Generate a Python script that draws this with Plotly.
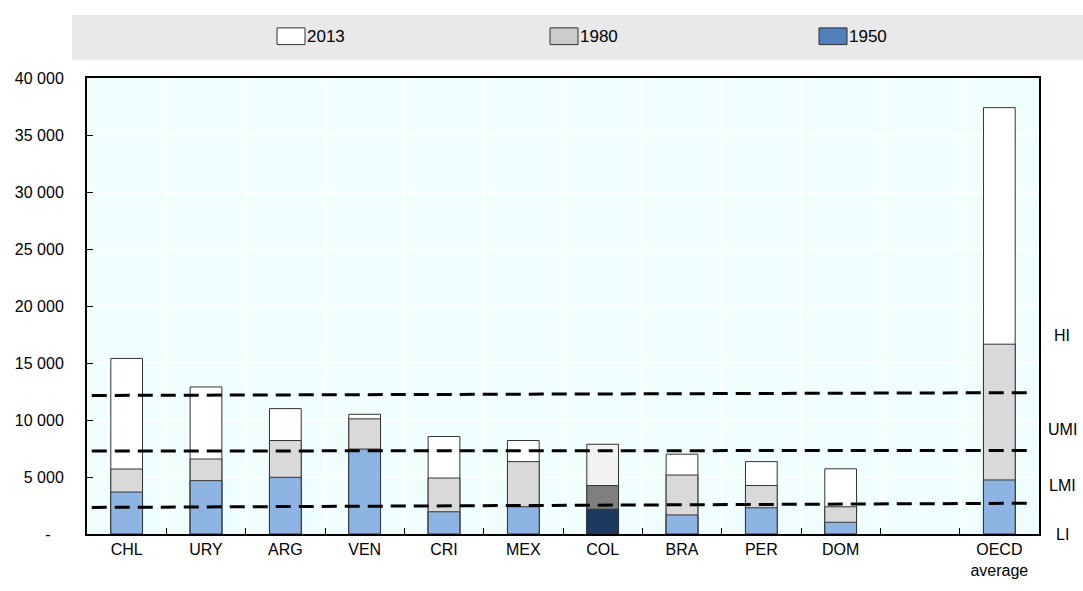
import plotly.graph_objects as go

# ---------------- data ----------------
categories = ["CHL", "URY", "ARG", "VEN", "CRI", "MEX", "COL", "BRA", "PER", "DOM", " ", "OECD<br>average"]
gdp_2013 = [15400, 12900, 11000, 10500, 8550, 8200, 7870, 7000, 6350, 5720, None, 37400]
gdp_1980 = [5700, 6580, 8200, 10100, 4910, 6350, 4250, 5170, 4250, 2390, None, 16650]
gdp_1950 = [3680, 4680, 4970, 7450, 1950, 2390, 2180, 1670, 2300, 1030, None, 4740]

highlight = "COL"

# income thresholds (start, end)
thr_x = [0.005, 0.994]
thr_high = [12150, 12400]
thr_umid = [7280, 7330]
thr_low = [2330, 2700]

band_labels = ["HI", "UMI", "LMI", "LI"]
band_label_y = [17450, 9150, 4250, 0]

y_ticks = [0, 5000, 10000, 15000, 20000, 25000, 30000, 35000, 40000]
y_ticktext = ["-\u00a0\u00a0\u00a0", "5 000", "10 000", "15 000", "20 000", "25 000", "30 000", "35 000", "40 000"]

legend_names = ["2013", "1980", "1950"]

# ---------------- styling ----------------
W, H = 1083, 591
L, R, T, B = 87, 1039, 78, 542
FONT = "Liberation Sans Narrow, Arial Narrow, Liberation Sans, Arial, sans-serif"

fill_2013 = ["#F2F2F2" if c == highlight else "#FFFFFF" for c in categories]
fill_1980 = ["#7F7F7F" if c == highlight else "#D9D9D9" for c in categories]
fill_1950 = ["#1B3A60" if c == highlight else "#8DB4E2" for c in categories]
edge = "#333333"

fig = go.Figure()
for name, vals, cols in [("2013", gdp_2013, fill_2013),
                         ("1980", gdp_1980, fill_1980),
                         ("1950", gdp_1950, fill_1950)]:
    fig.add_trace(go.Bar(
        x=categories, y=vals, name=name, width=0.4,
        marker=dict(color=cols, line=dict(color=edge, width=1)),
        showlegend=False, hoverinfo="skip"))

for vals in (thr_high, thr_umid, thr_low):
    fig.add_trace(go.Scatter(
        x=thr_x, y=vals, xaxis="x2", mode="lines",
        line=dict(color="black", width=3, dash="15px,8px"),
        showlegend=False, hoverinfo="skip"))


def px_x(p):
    return (p - L) / (R - L)


def px_y(p):
    return (B - p) / (B - T)


shapes = []
annotations = []
# legend band
shapes.append(dict(type="rect", xref="paper", yref="paper",
                   x0=px_x(72), x1=px_x(1083), y0=px_y(60), y1=px_y(14),
                   fillcolor="#E9E9E9", line=dict(width=0), layer="below"))
legend_fill = ["#FFFFFF", "#CCCCCC", "#4F81BD"]
legend_x = [277, 550, 819]
for name, fc, lx in zip(legend_names, legend_fill, legend_x):
    shapes.append(dict(type="rect", xref="paper", yref="paper",
                       x0=px_x(lx), x1=px_x(lx + 28), y0=px_y(44), y1=px_y(27),
                       fillcolor=fc, line=dict(color="#333333", width=1)))
    annotations.append(dict(text=name, xref="paper", yref="paper",
                            x=px_x(lx + 28), y=px_y(35.5), xanchor="left", yanchor="middle",
                            showarrow=False, font=dict(family=FONT, size=17, color="#000000")))

for lab, yv in zip(band_labels, band_label_y):
    annotations.append(dict(text=lab, xref="paper", yref="y",
                            x=px_x(1062), y=yv, xanchor="center", yanchor="middle",
                            showarrow=False, font=dict(family=FONT, size=16, color="#000000")))

fig.update_layout(
    width=W, height=H,
    margin=dict(l=L, r=W - R, t=T, b=H - B),
    paper_bgcolor="white", plot_bgcolor="#F0FEFE",
    barmode="overlay", bargap=0.6,
    font=dict(family=FONT, size=16, color="#000000"),
    shapes=shapes, annotations=annotations,
    xaxis=dict(type="category", categoryorder="array", categoryarray=categories,
               range=[-0.5, len(categories) - 0.5],
               tickson="boundaries", ticks="inside", ticklen=6, tickcolor="black",
               showgrid=True, gridcolor="white", gridwidth=1.5,
               showline=True, linecolor="black", linewidth=2, mirror=True,
               tickfont=dict(family=FONT, size=16), fixedrange=True),
    xaxis2=dict(overlaying="x", range=[0, 1], visible=False, fixedrange=True),
    yaxis=dict(range=[0, 40000], tickvals=y_ticks, ticktext=y_ticktext,
               ticks="inside", ticklen=6, tickcolor="black",
               showgrid=True, gridcolor="white", gridwidth=1.5,
               showline=True, linecolor="black", linewidth=2, mirror=True,
               zeroline=False, ticklabelstandoff=18,
               tickfont=dict(family=FONT, size=16), fixedrange=True),
)

fig.write_html("out.html", config={"displayModeBar": False},
               post_script="document.body.style.margin='0px';document.body.style.overflow='hidden';")
